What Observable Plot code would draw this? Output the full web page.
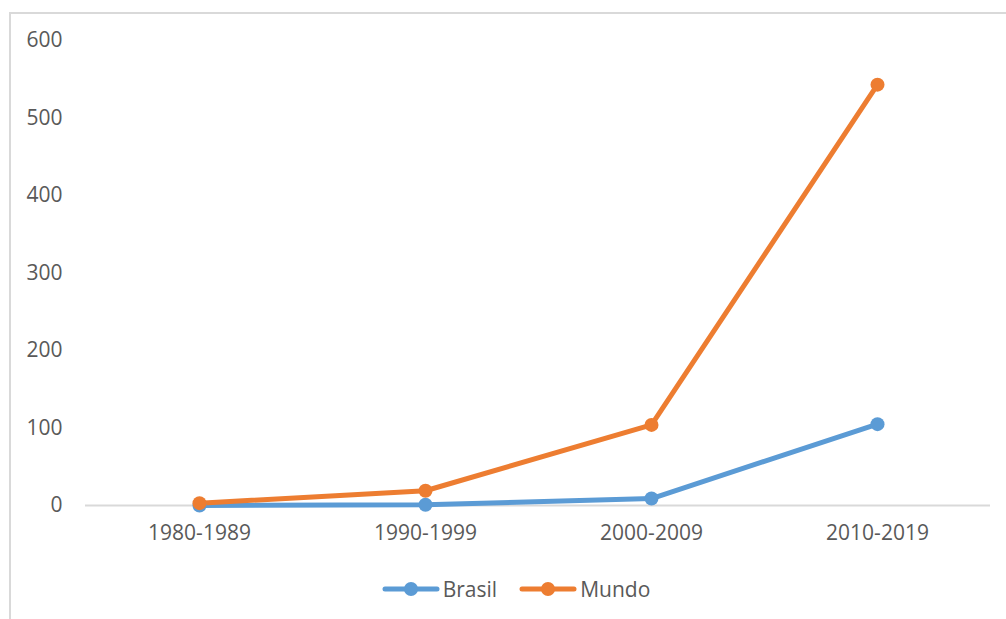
<!DOCTYPE html>
<html>
<head>
<meta charset="utf-8">
<script src="https://cdn.jsdelivr.net/npm/d3@7"></script>
<script src="https://cdn.jsdelivr.net/npm/@observablehq/plot@0.6"></script>
<style>
  html, body { margin: 0; padding: 0; background: #fff; }
  #wrap { position: relative; width: 1006px; height: 619px; overflow: hidden; font-family: "Open Sans", sans-serif; }
  #frame { position: absolute; left: 9px; top: 12px; width: 1100px; height: 700px; border-left: 2px solid #d9d9d9; border-top: 2px solid #d9d9d9; }
  #chart { position: absolute; left: 0; top: 0; }
  #legend { position: absolute; left: 0; top: 574px; width: 980px; padding-left: 26px; }
</style>
</head>
<body>
<div id="wrap">
  <div id="frame"></div>
  <div id="chart"></div>
  <div id="legend"></div>
</div>
<script>
// Decades on the x axis
const periods = ["1980-1989", "1990-1999", "2000-2009", "2010-2019"];
// Series values per decade
const brasil = [0, 1, 9, 105];
const mundo = [3, 19, 104, 543];
// Y axis ticks
const yTicks = [0, 100, 200, 300, 400, 500, 600];
// Series names and colours
const seriesNames = ["Brasil", "Mundo"];
const seriesColors = ["#5B9BD5", "#ED7D31"];

const rows = [
  ...periods.map((p, i) => ({period: p, value: brasil[i], series: "Brasil"})),
  ...periods.map((p, i) => ({period: p, value: mundo[i], series: "Mundo"}))
];

const textColor = "#595959";

const plot = Plot.plot({
  width: 1006,
  height: 560,
  marginTop: 40,
  marginBottom: 55,
  marginLeft: 85,
  marginRight: 16,
  style: {fontFamily: "'Open Sans', sans-serif", fontSize: "21px", color: textColor, background: "transparent"},
  x: {domain: periods, type: "point", padding: 0.5, label: null},
  y: {domain: [0, 600], label: null},
  color: {domain: seriesNames, range: seriesColors},
  marks: [
    Plot.ruleY([0], {stroke: "#d9d9d9", strokeWidth: 2}),
    Plot.axisY(yTicks, {tickSize: 0, tickPadding: 23, fill: textColor, fontSize: 21, label: null}),
    Plot.axisX(periods, {tickSize: 0, tickPadding: 20, fill: textColor, fontSize: 21, label: null}),
    Plot.line(rows, {x: "period", y: "value", z: "series", stroke: "series", strokeWidth: 5, strokeLinejoin: "round", strokeLinecap: "round"}),
    Plot.dot(rows, {x: "period", y: "value", fill: "series", r: 7, stroke: null})
  ]
});
document.getElementById("chart").appendChild(plot);

// Legend: line-with-marker swatches centred under the plot area
const legend = d3.select("#legend")
  .style("display", "flex")
  .style("justify-content", "center")
  .style("align-items", "center")
  .style("gap", "22px");
seriesNames.forEach((name, i) => {
  const item = legend.append("div")
    .style("display", "flex")
    .style("align-items", "center")
    .style("gap", "3px");
  const sw = item.append("svg").attr("width", 58).attr("height", 30);
  sw.append("line").attr("x1", 3).attr("x2", 55).attr("y1", 15).attr("y2", 15)
    .attr("stroke", seriesColors[i]).attr("stroke-width", 5).attr("stroke-linecap", "round");
  sw.append("circle").attr("cx", 29).attr("cy", 15).attr("r", 7).attr("fill", seriesColors[i]);
  item.append("span").text(name)
    .style("font-size", "21px")
    .style("color", textColor);
});
</script>
</body>
</html>
